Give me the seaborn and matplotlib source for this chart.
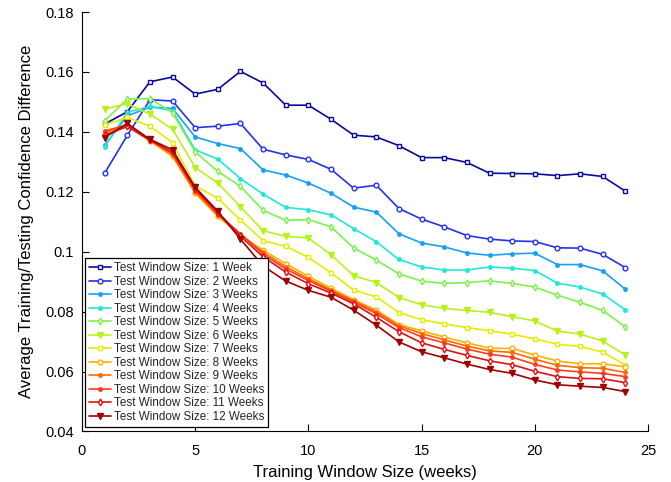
import numpy as np
import pandas as pd
import matplotlib
matplotlib.use("Agg")
import matplotlib.pyplot as plt
from matplotlib.ticker import FuncFormatter
import seaborn as sns

training_weeks = list(range(1, 25))

s1 = [0.1426, 0.1467, 0.1567, 0.1583, 0.1526, 0.1542, 0.1602, 0.1563, 0.1489, 0.1489, 0.1442, 0.1389,
      0.1383, 0.1354, 0.1314, 0.1314, 0.1298, 0.1262, 0.1261, 0.1260, 0.1254, 0.1260, 0.1251, 0.1202]
s2 = [0.1262, 0.1388, 0.1507, 0.1503, 0.1414, 0.1419, 0.1428, 0.1342, 0.1323, 0.1308, 0.1275, 0.1212,
      0.1222, 0.1144, 0.1109, 0.1083, 0.1054, 0.1042, 0.1036, 0.1034, 0.1013, 0.1012, 0.0991, 0.0947]
s3 = [0.1355, 0.1453, 0.1483, 0.1478, 0.1383, 0.1361, 0.1344, 0.1273, 0.1256, 0.1229, 0.1195, 0.1149,
      0.1132, 0.1060, 0.1029, 0.1016, 0.0996, 0.0988, 0.0993, 0.0995, 0.0957, 0.0957, 0.0936, 0.0875]
s4 = [0.1350, 0.1465, 0.1485, 0.1470, 0.1340, 0.1309, 0.1244, 0.1192, 0.1148, 0.1140, 0.1123, 0.1077,
      0.1033, 0.0974, 0.0949, 0.0939, 0.0939, 0.0949, 0.0945, 0.0937, 0.0895, 0.0882, 0.0859, 0.0806]
s5 = [0.1437, 0.1509, 0.1511, 0.1464, 0.1333, 0.1268, 0.1218, 0.1138, 0.1105, 0.1107, 0.1083, 0.1012,
      0.0972, 0.0926, 0.0902, 0.0894, 0.0897, 0.0903, 0.0894, 0.0882, 0.0855, 0.0831, 0.0804, 0.0749]
s6 = [0.1476, 0.1494, 0.1459, 0.1409, 0.1281, 0.1229, 0.1150, 0.1070, 0.1051, 0.1046, 0.0990, 0.0920,
      0.0897, 0.0847, 0.0823, 0.0811, 0.0804, 0.0798, 0.0783, 0.0769, 0.0735, 0.0725, 0.0702, 0.0655]
s7 = [0.1423, 0.1448, 0.1419, 0.1364, 0.1220, 0.1178, 0.1106, 0.1037, 0.1018, 0.0981, 0.0930, 0.0872,
      0.0849, 0.0797, 0.0773, 0.0759, 0.0747, 0.0736, 0.0725, 0.0709, 0.0691, 0.0684, 0.0665, 0.0622]
s8 = [0.1392, 0.1420, 0.1370, 0.1318, 0.1195, 0.1118, 0.1055, 0.1005, 0.0960, 0.0918, 0.0878, 0.0840,
      0.0805, 0.0757, 0.0736, 0.0715, 0.0696, 0.0678, 0.0677, 0.0655, 0.0635, 0.0626, 0.0626, 0.0616]
s9 = [0.1398, 0.1422, 0.1372, 0.1323, 0.1200, 0.1122, 0.1058, 0.0998, 0.0950, 0.0910, 0.0872, 0.0836,
      0.0800, 0.0753, 0.0727, 0.0706, 0.0685, 0.0669, 0.0664, 0.0641, 0.0621, 0.0613, 0.0611, 0.0597]
s10 = [0.1403, 0.1423, 0.1374, 0.1328, 0.1205, 0.1126, 0.1060, 0.0992, 0.0942, 0.0904, 0.0868, 0.0832,
       0.0793, 0.0747, 0.0716, 0.0696, 0.0675, 0.0658, 0.0648, 0.0624, 0.0605, 0.0599, 0.0594, 0.0583]
s11 = [0.1388, 0.1418, 0.1372, 0.1332, 0.1210, 0.1130, 0.1052, 0.0983, 0.0932, 0.0893, 0.0862, 0.0826,
       0.0781, 0.0733, 0.0696, 0.0674, 0.0654, 0.0636, 0.0623, 0.0601, 0.0583, 0.0577, 0.0576, 0.0563]
s12 = [0.1381, 0.1428, 0.1375, 0.1340, 0.1215, 0.1135, 0.1042, 0.0952, 0.0902, 0.0871, 0.0848, 0.0805,
       0.0755, 0.0699, 0.0666, 0.0646, 0.0625, 0.0607, 0.0594, 0.0572, 0.0556, 0.0551, 0.0547, 0.0533]

series_values = [s1, s2, s3, s4, s5, s6, s7, s8, s9, s10, s11, s12]
series_labels = ["Test Window Size: 1 Week"] + [f"Test Window Size: {i} Weeks" for i in range(2, 13)]

colors = ["#0a0a9c", "#2233ee", "#18a0f8", "#22e6d6", "#7cf24c", "#b8f21c",
          "#e2ee00", "#ffb000", "#ff6a00", "#ff3c1e", "#e01010", "#a00000"]
markers = ["s", "o", ".", ".", "d", "v", "s", "o", ".", ".", "d", "v"]

sns.set_theme(style="white")
plt.rcParams["font.family"] = ["Liberation Sans", "DejaVu Sans"]

fig = plt.figure(figsize=(6.71, 4.82), dpi=100)
ax = fig.add_axes([0.1222, 0.1048, 0.8435, 0.8703])

for vals, lab, col, mk in zip(series_values, series_labels, colors, markers):
    df = pd.DataFrame({"x": training_weeks, "y": vals})
    open_marker = mk in ("s", "o", "d")
    if mk == ".":
        ms = 5
    elif mk == "v":
        ms = 4.2
    else:
        ms = 3.4
    sns.lineplot(data=df, x="x", y="y", ax=ax, color=col, marker=mk, label=lab,
                 linewidth=1.2, markersize=ms,
                 markerfacecolor=("white" if open_marker else col),
                 markeredgecolor=col, markeredgewidth=1.0)

ax.set_xlim(0, 25)
ax.set_ylim(0.04, 0.18)
ax.set_xticks([0, 5, 10, 15, 20, 25])
ax.set_yticks([0.04, 0.06, 0.08, 0.10, 0.12, 0.14, 0.16, 0.18])
ax.yaxis.set_major_formatter(FuncFormatter(lambda v, p: f"{v:g}"))

for side in ["top", "right"]:
    ax.spines[side].set_visible(False)
for side in ["left", "bottom"]:
    ax.spines[side].set_visible(True)
    ax.spines[side].set_color("black")
    ax.spines[side].set_linewidth(0.8)

ax.tick_params(axis="x", direction="in", length=5, width=0.8, colors="black",
               labelsize=10.5, pad=9, bottom=True)
ax.tick_params(axis="y", direction="in", length=5, width=0.8, colors="black",
               labelsize=10.5, pad=6, left=True)
ax.set_xlabel("Training Window Size (weeks)", fontsize=12, color="black", labelpad=5)
ax.set_ylabel("Average Training/Testing Confidence Difference", fontsize=12, color="black", labelpad=8)
ax.grid(False)

leg = ax.legend(loc="lower left", bbox_to_anchor=(0.005, 0.011), borderaxespad=0,
                fontsize=8.4, frameon=True, fancybox=False, framealpha=1,
                edgecolor="black", handlelength=1.9, handletextpad=0.25,
                labelspacing=0.13, borderpad=0.35)
leg.get_frame().set_linewidth(0.9)

fig.savefig("out.png", dpi=100, facecolor="white")
